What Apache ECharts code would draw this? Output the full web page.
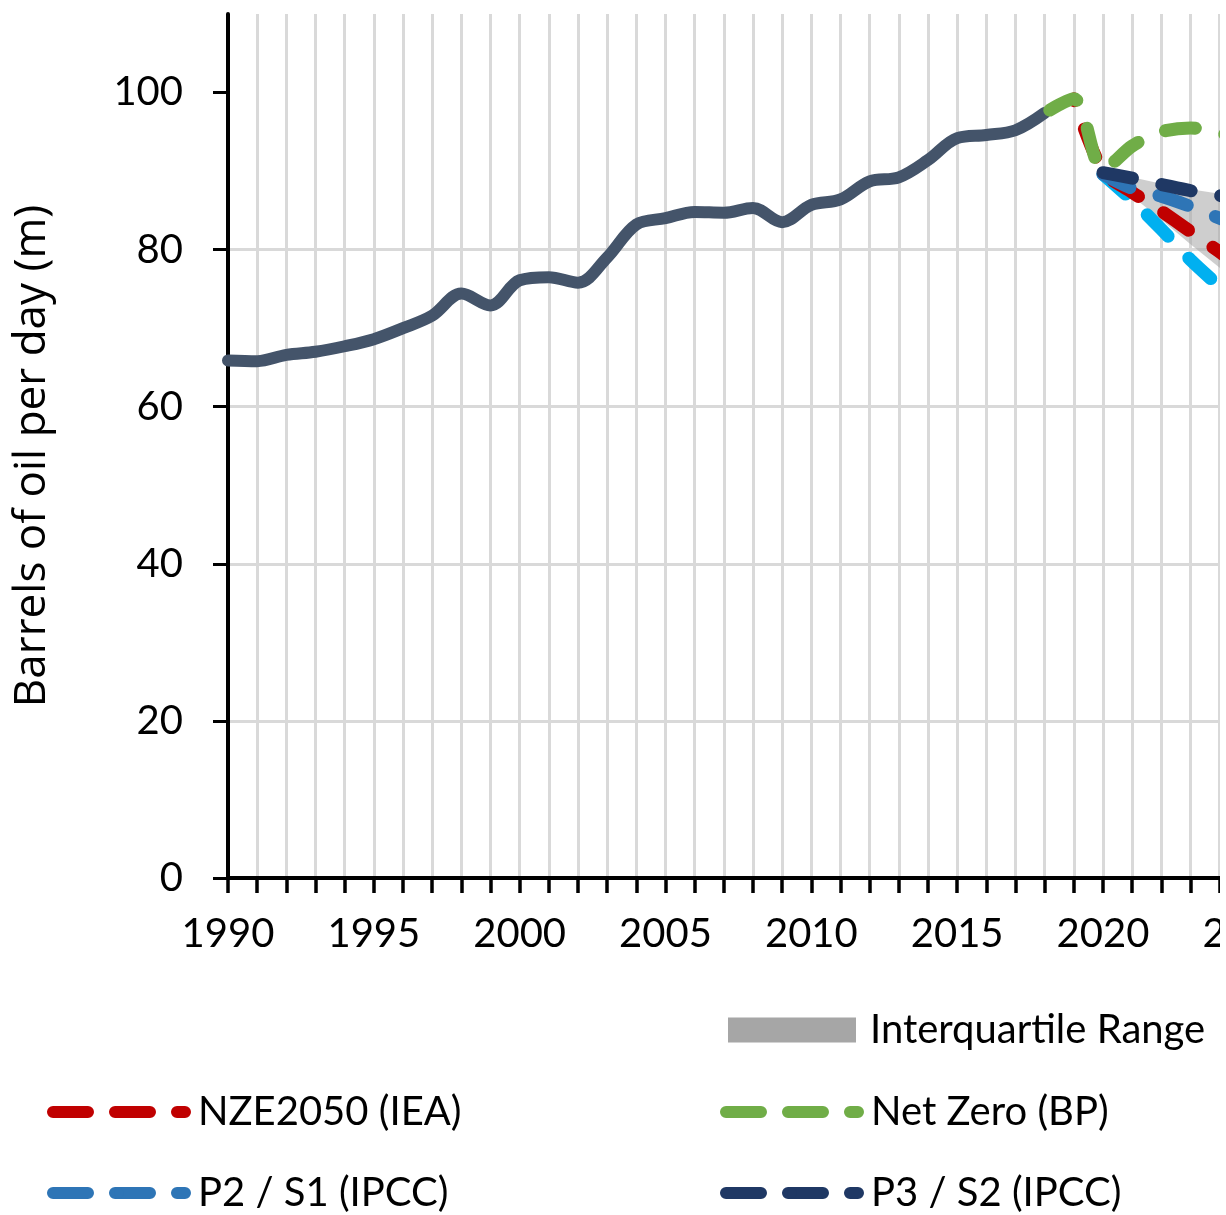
<!DOCTYPE html>
<html>
<head>
<meta charset="utf-8">
<title>Barrels of oil per day</title>
<script src="https://cdn.jsdelivr.net/npm/echarts@6.0.0/dist/echarts.min.js"></script>
<style>
html,body{margin:0;padding:0;background:#fff;overflow:hidden;}
#wrap{width:1220px;height:1215px;overflow:hidden;}
#main{width:2000px;height:1215px;}
</style>
</head>
<body>
<div id="wrap"><div id="main"></div></div>
<script>
// historical demand
var histYears = [1990,1991,1992,1993,1994,1995,1996,1997,1998,1999,2000,2001,2002,2003,2004,
                 2005,2006,2007,2008,2009,2010,2011,2012,2013,2014,2015,2016,2017,2018];
var histValues = [65.9,65.8,66.6,67.0,67.7,68.6,70.0,71.6,74.4,72.9,76.1,76.5,75.8,79.0,83.2,
                  84.0,84.8,84.7,85.3,83.5,85.7,86.4,88.7,89.2,91.4,94.2,94.6,95.2,97.4];

// scenarios
var scenYears = [2018,2019,2020,2021,2022,2023,2024,2025];
var netZeroBP = [97.4,99.2,90.2,93.2,95.0,95.5,94.8,94.3];
var nze2050   = [null,99.2,90.0,87.3,84.9,82.3,79.7,77.0];
var p1Ipcc    = [null,null,89.6,86.3,82.6,78.7,75.3,72.0];
var p2s1      = [null,null,89.6,87.8,86.8,85.5,84.0,82.5];
var p3s2      = [null,null,89.8,89.1,88.3,87.5,86.9,86.0];
var iqrLow    = [null,null,89.5,86.8,83.8,80.7,77.7,74.8];
var iqrHigh   = [null,null,89.9,89.2,88.4,87.7,87.1,86.3];

var yTicks = [0,20,40,60,80,100];

var FONT = 'Lato';

function pairs(xs, ys){
  var out = [];
  for(var i = 0;i < xs.length;i ++){
    if(ys[i] != null) out.push([xs[i], ys[i]]);
  }
  return out;
}

function dashed(name, color, ys, offset){
  return {
    name:name,
    type:'line',
    data:pairs(scenYears, ys),
    smooth:0.3,
    symbol:'none',
    showSymbol:false,
    lineStyle:{color:color, width:13, type:[30,30], dashOffset:offset || 0, cap:'round'},
    itemStyle:{color:color},
    emphasis:{disabled:true}
  };
}

// band between iqrLow and iqrHigh, drawn through the axes' scales
function renderBand(params, api){
  var pts = [];
  for(var i = 0;i < scenYears.length;i ++){
    if(iqrLow[i] != null) pts.push(api.coord([scenYears[i], iqrLow[i]]));
  }
  for(var j = scenYears.length - 1;j >= 0;j --){
    if(iqrHigh[j] != null) pts.push(api.coord([scenYears[j], iqrHigh[j]]));
  }
  return {
    type:'polygon',
    shape:{points:pts},
    style:{fill:'rgba(166,166,166,0.55)'}
  };
}

var legendText = {fontSize:40, fontFamily:FONT, color:'#000', lineHeight:40, padding:[0,0,0,9]};
var lineLegendText = Object.assign({}, legendText, {padding:[0,0,0,8]});
var lineLegend = {
  itemWidth:132, itemHeight:12, selectedMode:false, padding:0,
  lineStyle:{width:12, type:[35,27], dashOffset:0, cap:'round'},
  textStyle:lineLegendText
};
function legendAt(name, left, top){
  return Object.assign({}, lineLegend, {data:[name], left:left, top:top});
}

var mychart = echarts.init(document.getElementById('main'));
mychart.setOption({
  animation:false,
  backgroundColor:'#fff',
  grid:{left:228, top:14, width:1750, height:864, outerBoundsMode:'none', containLabel:false},
  legend:[
    {
      data:[{name:'Interquartile Range', icon:'rect', itemStyle:{color:'#a6a6a6'}}],
      left:728, top:1010, itemWidth:128, itemHeight:25, selectedMode:false, padding:0,
      textStyle:legendText
    },
    legendAt('NZE2050 (IEA)', 47, 1092),
    legendAt('P2 / S1 (IPCC)', 47, 1173),
    legendAt('Net Zero (BP)', 720, 1092),
    legendAt('P3 / S2 (IPCC)', 720, 1173),
    legendAt('P1 (IPCC)', 1400, 1092)
  ],
  xAxis:{
    type:'value',
    min:1990,
    max:2050,
    interval:5,
    axisLine:{lineStyle:{color:'#000', width:4}},
    axisTick:{show:true, length:15, lineStyle:{color:'#000', width:3.5}},
    minorTick:{show:true, splitNumber:5, length:15, lineStyle:{color:'#000', width:3.5}},
    splitLine:{show:true, lineStyle:{color:'#d9d9d9', width:3}},
    minorSplitLine:{show:true, lineStyle:{color:'#d9d9d9', width:3}},
    axisLabel:{fontSize:40, fontFamily:FONT, color:'#000', margin:36,
      formatter:function(v){ return String(v); }}
  },
  yAxis:{
    type:'value',
    min:0,
    max:110,
    interval:20,
    name:'Barrels of oil per day (m)',
    nameLocation:'middle',
    nameGap:174,
    nameRotate:90,
    nameTextStyle:{fontSize:44, fontFamily:'Open Sans', color:'#000', padding:[0,20,0,0]},
    axisLine:{show:true, lineStyle:{color:'#000', width:4}},
    axisTick:{show:true, length:15, customValues:yTicks, lineStyle:{color:'#000', width:3}},
    axisLabel:{fontSize:40, fontFamily:FONT, color:'#000', margin:45, customValues:yTicks},
    splitLine:{show:true, showMaxLine:false, lineStyle:{color:'#d9d9d9', width:3}}
  },
  series:[
    {
      name:'Interquartile Range',
      type:'custom',
      data:[[2020, 89.7]],
      encode:{x:0, y:1},
      renderItem:renderBand,
      itemStyle:{color:'#a6a6a6'},
      silent:true
    },
    {
      name:'Historical',
      type:'line',
      data:pairs(histYears, histValues),
      smooth:0.35,
      symbol:'none',
      lineStyle:{color:'#44546a', width:12, cap:'round'},
      itemStyle:{color:'#44546a'}
    },
    dashed('P1 (IPCC)', '#00b0f0', p1Ipcc),
    dashed('NZE2050 (IEA)', '#c00000', nze2050, 28),
    dashed('P2 / S1 (IPCC)', '#2e75b6', p2s1),
    dashed('Net Zero (BP)', '#70ad47', netZeroBP, -6),
    dashed('P3 / S2 (IPCC)', '#1f3864', p3s2)
  ]
});
</script>
</body>
</html>
